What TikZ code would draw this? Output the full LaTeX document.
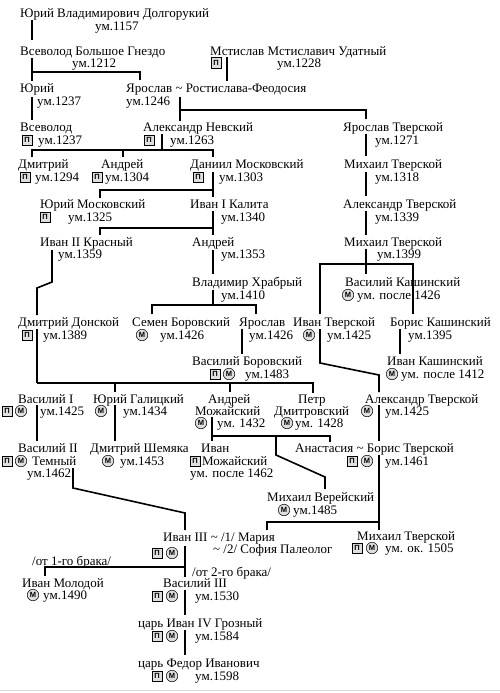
\documentclass[tikz,border=0pt]{standalone}
\usepackage{fontspec}
\setmainfont{Liberation Serif}
\newfontfamily\badgefont{Liberation Sans}
\begin{document}
\begin{tikzpicture}[x=1pt,y=-1pt,
  txt/.style={anchor=base west,inner sep=0pt,yshift=-4.3pt,font=\fontsize{13}{15}\selectfont},
  pb/.style={draw,line width=0.5pt,fill=gray!25,minimum width=10pt,minimum height=10.5pt,inner sep=0pt,font=\badgefont\bfseries\fontsize{7.5}{8}\selectfont},
  mc/.style={circle,draw,line width=0.5pt,fill=gray!25,minimum size=11.5pt,inner sep=0pt,font=\badgefont\bfseries\fontsize{7.5}{8}\selectfont},
  ln/.style={line width=1.6pt,line cap=butt,line join=miter}]
\useasboundingbox (0,0) rectangle (500,693);
\fill[white] (0,0) rectangle (500,693);
\draw[gray!30,line width=0.8pt] (0,690) -- (500,690);

% ---------- texts ----------
\node[txt] (yuri1) at (20,13) {Юрий Владимирович Долгорукий};
\node[txt] (yuri1d) at (95,26) {ум.1157};
\node[txt] (vsev) at (20,51) {Всеволод Большое Гнездо};
\node[txt] (vsevd) at (72,63) {ум.1212};
\node[txt] (mstis) at (210,51) {Мстислав Мстиславич Удатный};
\node[txt] (mstisd) at (277,63) {ум.1228};
\node[pb] (mstisp) at (216,63) {П};
\node[txt] (yuri2) at (20,88) {Юрий};
\node[txt] (yuri2d) at (37,101) {ум.1237};
\node[txt] (yaros) at (126,88) {Ярослав \textasciitilde{} Ростислава-Феодосия};
\node[txt] (yarosd) at (126,101) {ум.1246};
\node[txt] (vsev2) at (20,127) {Всеволод};
\node[pb] (vsev2p) at (27,140) {П};
\node[txt] (vsev2d) at (38,140) {ум.1237};
\node[txt] (nevsky) at (143,127) {Александр Невский};
\node[pb] (nevskyp) at (149,140) {П};
\node[txt] (nevskyd) at (170,140) {ум.1263};
\node[txt] (yartv) at (343,127) {Ярослав Тверской};
\node[txt] (yartvd) at (375,140) {ум.1271};
\node[txt] (dmitr) at (18,164) {Дмитрий};
\node[pb] (dmitrp) at (25,177) {П};
\node[txt] (dmitrd) at (35,177) {ум.1294};
\node[txt] (andr1) at (101,164) {Андрей};
\node[pb] (andr1p) at (97,177) {П};
\node[txt] (andr1d) at (105,177) {ум.1304};
\node[txt] (daniil) at (190,164) {Даниил Московский};
\node[pb] (daniilp) at (198,177) {П};
\node[txt] (daniild) at (219,177) {ум.1303};
\node[txt] (mtv1) at (344,164) {Михаил Тверской};
\node[txt] (mtv1d) at (375,177) {ум.1318};
\node[txt] (yurimos) at (40,204) {Юрий Московский};
\node[pb] (yurimosp) at (45,217) {П};
\node[txt] (yurimosd) at (68,217) {ум.1325};
\node[txt] (ivan1) at (190,204) {Иван I Калита};
\node[txt] (ivan1d) at (221,217) {ум.1340};
\node[txt] (atv1) at (343,204) {Александр Тверской};
\node[txt] (atv1d) at (375,217) {ум.1339};
\node[txt] (ivan2) at (40,242) {Иван II Красный};
\node[txt] (ivan2d) at (58,254) {ум.1359};
\node[txt] (andr2) at (192,242) {Андрей};
\node[txt] (andr2d) at (221,254) {ум.1353};
\node[txt] (mtv2) at (344,242) {Михаил Тверской};
\node[txt] (mtv2d) at (377,254) {ум.1399};
\node[txt] (vlad) at (192,282) {Владимир Храбрый};
\node[txt] (vladd) at (221,295) {ум.1410};
\node[txt] (vkash) at (345,282) {Василий Кашинский};
\node[mc] (vkashm) at (348,295) {М};
\node[txt] (vkashd) at (357,295) {ум. после 1426};
\node[txt] (donskoy) at (18,322) {Дмитрий Донской};
\node[pb] (donskoyp) at (27,335) {П};
\node[txt] (donskoyd) at (43,335) {ум.1389};
\node[txt] (semen) at (132,322) {Семен Боровский};
\node[mc] (semenm) at (142,335) {М};
\node[txt] (semend) at (160,335) {ум.1426};
\node[txt] (yaros2) at (239,322) {Ярослав};
\node[txt] (yaros2d) at (249,335) {ум.1426};
\node[txt] (ivantv) at (293,322) {Иван Тверской};
\node[mc] (ivantvm) at (309,335) {М};
\node[txt] (ivantvd) at (327,335) {ум.1425};
\node[txt] (bkash) at (390,322) {Борис Кашинский};
\node[txt] (bkashd) at (408,335) {ум.1395};
\node[txt] (vbor) at (192,361) {Василий Боровский};
\node[pb] (vborp) at (215,374) {П};
\node[mc] (vborm) at (229,374) {М};
\node[txt] (vbord) at (245,374) {ум.1483};
\node[txt] (ikash) at (387,361) {Иван Кашинский};
\node[mc] (ikashm) at (392,374) {М};
\node[txt] (ikashd) at (401,374) {ум. после 1412};
\node[txt] (vas1) at (18,399) {Василий I};
\node[pb] (vas1p) at (7,411) {П};
\node[mc] (vas1m) at (21,411) {М};
\node[txt] (vas1d) at (40,411) {ум.1425};
\node[txt] (ygal) at (93,399) {Юрий Галицкий};
\node[mc] (ygalm) at (101,411) {М};
\node[txt] (ygald) at (123,411) {ум.1434};
\node[txt] (amoz) at (208,399) {Андрей};
\node[txt] (amoz2) at (195,411) {Можайский};
\node[mc] (amozm) at (201,423) {М};
\node[txt] (amozd) at (217,423) {ум. 1432};
\node[txt] (petr) at (298,399) {Петр};
\node[txt] (petr2) at (274,411) {Дмитровский};
\node[mc] (petrm) at (287,423) {М};
\node[txt] (petrd) at (295,423) {ум. 1428};
\node[txt] (atv2) at (365,399) {Александр Тверской};
\node[mc] (atv2m) at (367,411) {М};
\node[txt] (atv2d) at (385,411) {ум.1425};
\node[txt] (vas2) at (18,448) {Василий II};
\node[pb] (vas2p) at (7,461) {П};
\node[mc] (vas2m) at (21,461) {М};
\node[txt] (vas2t) at (32,461) {Темный};
\node[txt] (vas2d) at (27,473) {ум.1462};
\node[txt] (shem) at (90,448) {Дмитрий Шемяка};
\node[mc] (shemm) at (108,461) {М};
\node[txt] (shemd) at (120,461) {ум.1453};
\node[txt] (imoz) at (201,448) {Иван};
\node[pb] (imozp) at (195,461) {П};
\node[txt] (imoz2) at (202,461) {Можайский};
\node[txt] (imozd) at (190,473) {ум. после 1462};
\node[txt] (btv) at (295,448) {Анастасия \textasciitilde{} Борис Тверской};
\node[pb] (btvp) at (352,461) {П};
\node[mc] (btvm) at (367,461) {М};
\node[txt] (btvd) at (385,461) {ум.1461};
\node[txt] (ver) at (267,497) {Михаил Верейский};
\node[mc] (verm) at (284,510) {М};
\node[txt] (verd) at (293,510) {ум.1485};
\node[txt] (ivan3) at (163,537) {Иван III \textasciitilde{} /1/ Мария};
\node[pb] (ivan3p) at (157,553) {П};
\node[mc] (ivan3m) at (172,553) {М};
\node[txt] (ivan3b) at (213,549) {\textasciitilde{} /2/ София Палеолог};
\node[txt] (mtv3) at (357,536) {Михаил Тверской};
\node[pb] (mtv3p) at (357,548) {П};
\node[mc] (mtv3m) at (372,548) {М};
\node[txt] (mtv3d) at (385,548) {ум. ок. 1505};
\node[txt] (brak1) at (32,561) {/от 1-го брака/};
\node[txt] (brak2) at (192,572) {/от 2-го брака/};
\node[txt] (molod) at (22,583) {Иван Молодой};
\node[mc] (molodm) at (33,595) {М};
\node[txt] (molodd) at (43,595) {ум.1490};
\node[txt] (vas3) at (163,583) {Василий III};
\node[pb] (vas3p) at (157,596) {П};
\node[mc] (vas3m) at (172,596) {М};
\node[txt] (vas3d) at (195,596) {ум.1530};
\node[txt] (ivan4) at (138,623) {царь Иван IV Грозный};
\node[pb] (ivan4p) at (157,636) {П};
\node[mc] (ivan4m) at (172,636) {М};
\node[txt] (ivan4d) at (195,636) {ум.1584};
\node[txt] (fedor) at (138,663) {царь Федор Иванович};
\node[pb] (fedorp) at (157,676) {П};
\node[mc] (fedorm) at (172,676) {М};
\node[txt] (fedord) at (195,676) {ум.1598};

% ---------- connectors ----------
\draw[ln] (32,20) -- (32,40);
\draw[ln] (32,58) -- (32,81);
\draw[ln] (32,72) -- (140,72) -- (140,80);
\draw[ln] (227,57) -- (227,81);
\draw[ln] (32,97) -- (32,120);
\draw[ln] (180,97) -- (180,121);
\draw[ln] (180,110) -- (366,110) -- (366,119);
\draw[ln] (366,134) -- (366,156);
\draw[ln] (366,172) -- (366,196);
\draw[ln] (366,211) -- (366,235);
\draw[ln] (366,249) -- (366,274);
\draw[ln] (320,314) -- (320,264) -- (413,264) -- (413,314);
\draw[ln] (162,134) -- (162,150);
\draw[ln] (32,157) -- (32,150) -- (213,150) -- (213,157);
\draw[ln] (123,150) -- (123,157);
\draw[ln] (213,172) -- (213,197);
\draw[ln] (100,198) -- (100,190) -- (213,190);
\draw[ln] (213,211) -- (213,235);
\draw[ln] (100,235) -- (100,228) -- (213,228);
\draw[ln] (52,250) -- (52,282) -- (37,288) -- (37,315);
\draw[ln] (213,250) -- (213,274);
\draw[ln] (213,290) -- (213,305);
\draw[ln] (152,314) -- (152,305) -- (256,305) -- (256,314);
\draw[ln] (242,329) -- (242,354);
\draw[ln] (37,329) -- (37,383);
\draw[ln] (37,383) -- (313,383) -- (313,393);
\draw[ln] (115,383) -- (115,392);
\draw[ln] (230,383) -- (230,392);
\draw[ln] (37,405) -- (37,441);
\draw[ln] (115,405) -- (115,441);
\draw[ln] (212,417) -- (212,441);
\draw[ln] (212,436) -- (330,436) -- (330,442);
\draw[ln] (276,436) -- (276,455) -- (325,477) -- (325,489);
\draw[ln] (320,329) -- (320,363) -- (379,375) -- (379,392);
\draw[ln] (400,329) -- (400,354);
\draw[ln] (379,405) -- (379,441);
\draw[ln] (379,455) -- (379,530);
\draw[ln] (267,530) -- (267,522) -- (379,522);
\draw[ln] (73,468) -- (73,488) -- (185,513) -- (185,530);
\draw[ln] (185,546) -- (185,577);
\draw[ln] (45,576) -- (45,567) -- (185,567);
\draw[ln] (185,590) -- (185,615);
\draw[ln] (185,630) -- (185,655);
\end{tikzpicture}
\end{document}
